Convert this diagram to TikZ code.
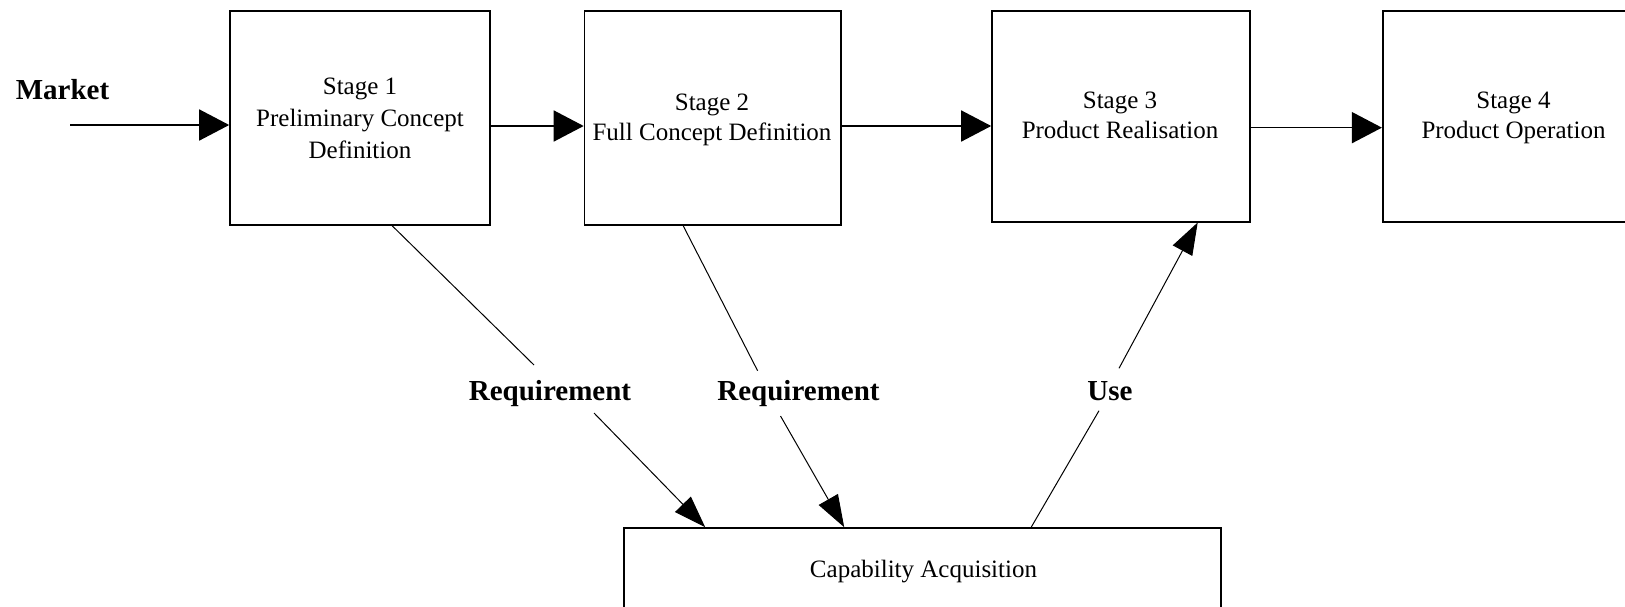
\documentclass[tikz,border=0pt]{standalone}
\usepackage{fontspec}
\setmainfont{Liberation Serif}
\usetikzlibrary{arrows.meta,calc}

\tikzset{
  stagebox/.style={draw, line width=1.6pt, rectangle, inner sep=0pt},
  boxtext/.style={anchor=base, inner sep=0pt, font=\fontsize{25}{30}\selectfont},
  flowlabel/.style={anchor=base, inner sep=0pt, font=\fontsize{29}{34}\selectfont\bfseries},
  flowarrow/.style={line width=1.6pt, -{Triangle[length=30pt,width=31pt]}},
  link/.style={line width=1pt},
  linkarrow/.style={line width=1pt, -{Triangle[length=32pt,width=22pt]}}
}

\begin{document}
\begin{tikzpicture}[x=1pt, y=-1pt]
  \useasboundingbox (0,0) rectangle (1625,606);
  \clip (0,0) rectangle (1625,606);

  % stage boxes
  \node[stagebox, minimum width=260pt,   minimum height=214pt]   (s1)  at (360,118)      {};
  \node[stagebox, minimum width=256.5pt, minimum height=214pt]   (s2)  at (712.75,118)   {};
  \node[stagebox, minimum width=258pt,   minimum height=210.7pt] (s3)  at (1121,116.35)  {};
  \node[stagebox, minimum width=261.3pt, minimum height=210.7pt] (s4)  at (1513.35,116.35) {};
  \node[stagebox, minimum width=597pt,   minimum height=132pt]   (cap) at (922.5,594)    {};

  % box texts
  \node[boxtext] (s1a) at (360,94)  {Stage 1};
  \node[boxtext] (s1b) at (360,126) {Preliminary Concept};
  \node[boxtext] (s1c) at (360,158) {Definition};
  \node[boxtext] (s2a) at (712,110) {Stage 2};
  \node[boxtext] (s2b) at (712,140) {Full Concept Definition};
  \node[boxtext] (s3a) at (1120,108) {Stage 3};
  \node[boxtext] (s3b) at (1120,138) {Product Realisation};
  \node[boxtext] (s4a) at (1513.5,108) {Stage 4};
  \node[boxtext] (s4b) at (1513.5,138) {Product Operation};
  \node[boxtext] (capt) at (923.5,577) {Capability Acquisition};

  % flow labels
  \node[flowlabel] (mkt)  at (62.5,99)  {Market};
  \node[flowlabel] (req1) at (550,400)  {Requirement};
  \node[flowlabel] (req2) at (798.5,400) {Requirement};
  \node[flowlabel] (use)  at (1110,400) {Use};

  % main flow
  \coordinate (mkstart) at (70,125);
  \draw[flowarrow] (mkstart) -- (s1.west |- mkstart);
  \draw[flowarrow] ([yshift=-8pt]s1.east) -- ([yshift=-8pt]s2.west);
  \draw[flowarrow] ([yshift=-8pt]s2.east) -- ([yshift=-9.65pt]s3.west);
  \draw[flowarrow] ([yshift=-11.3pt]s3.east) -- ([yshift=-11.3pt]s4.west);

  % requirement and use links, broken around their labels
  \coordinate (r1up) at (534,365);
  \coordinate (r1dn) at (594,413);
  \coordinate (r2up) at (757.6,370.7);
  \coordinate (r2dn) at (780.5,416);
  \coordinate (u1dn) at (1099,410.7);
  \coordinate (u1up) at (1119,368.3);

  \draw[link] ([xshift=163pt]s1.south west) -- (r1up);
  \draw[linkarrow] (r1dn) -- ([xshift=82pt]cap.north west);
  \draw[link] ([xshift=99.5pt]s2.south west) -- (r2up);
  \draw[linkarrow] (r2dn) -- ([xshift=221pt]cap.north west);
  \draw[link] ([xshift=408pt]cap.north west) -- (u1dn);
  \draw[linkarrow] (u1up) -- ([xshift=206.5pt]s3.south west);
\end{tikzpicture}
\end{document}
